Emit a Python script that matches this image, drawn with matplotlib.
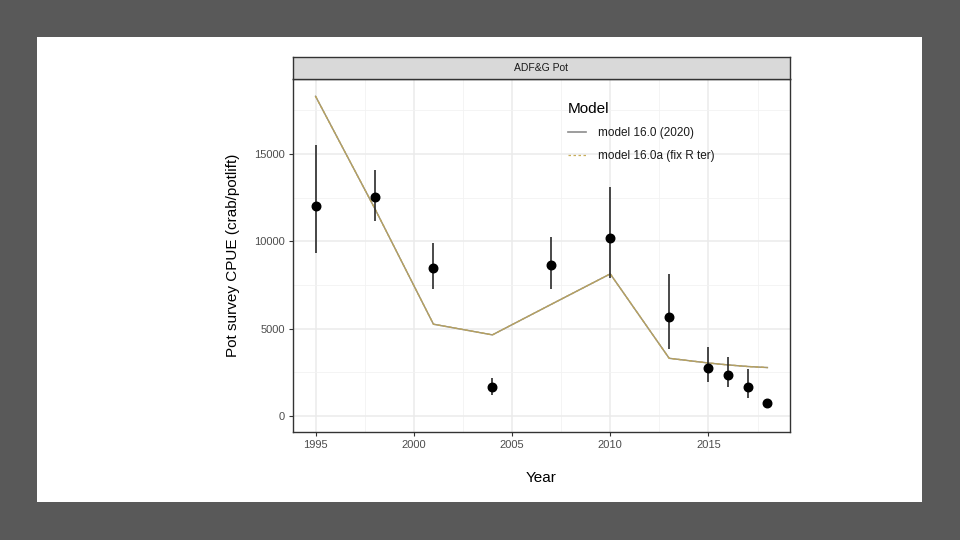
import numpy as np
import matplotlib
matplotlib.use('Agg')
import matplotlib.pyplot as plt
from matplotlib.patches import Rectangle
from matplotlib.lines import Line2D

plt.rcParams['font.family'] = ['Liberation Sans', 'DejaVu Sans']

# survey observations
years = [1995, 1998, 2001, 2004, 2007, 2010, 2013, 2015, 2016, 2017, 2018]
cpue = [12020, 12540, 8490, 1660, 8640, 10170, 5640, 2770, 2350, 1680, 740]
cpue_lo = [9350, 11130, 7270, 1200, 7270, 7900, 3850, 1970, 1680, 1030, 600]
cpue_hi = [15520, 14070, 9890, 2180, 10250, 13130, 8150, 3970, 3400, 2710, 880]

# model fits
fit_160 = [18290, 11900, 5250, 4640, 6390, 8130, 3300, 3030, 2920, 2830, 2770]
fit_160a = [18290, 11900, 5250, 4640, 6390, 8130, 3300, 3030, 2920, 2830, 2770]

model_names = ['model 16.0 (2020)', 'model 16.0a (fix R ter)']
panel_title = 'ADF&G Pot'

fig = plt.figure(figsize=(9.6, 5.4), dpi=100)
fig.patch.set_facecolor('#595959')
fig.patches.append(Rectangle((37/960, 38/540), 885/960, 465/540, transform=fig.transFigure,
                             facecolor='white', edgecolor='none', zorder=-10))

ax = fig.add_axes([293/960, 1-432/540, 497/960, 353/540])
ax.set_facecolor('white')

ax.set_xlim(1993.85, 2019.15)
ax.set_ylim(-918, 19282)
ax.set_xticks([1995, 2000, 2005, 2010, 2015])
ax.set_xticks([1997.5, 2002.5, 2007.5, 2012.5, 2017.5], minor=True)
ax.set_yticks([0, 5000, 10000, 15000])
ax.set_yticks([2500, 7500, 12500, 17500], minor=True)
ax.grid(which='major', color='#EBEBEB', lw=1.1, zorder=0)
ax.grid(which='minor', color='#F2F2F2', lw=0.6, zorder=0)
ax.set_axisbelow(True)

ax.tick_params(which='major', direction='out', length=3, width=0.8, color='#333333',
               labelsize=8, labelcolor='#4D4D4D', pad=3)
ax.tick_params(which='minor', length=0)
for s in ax.spines.values():
    s.set_color('#333333')
    s.set_linewidth(1.0)

ax.plot(years, fit_160, color='#8C8C8C', lw=1.0, zorder=2)
ax.plot(years, fit_160a, color='#C8AE5A', lw=1.0, ls=(0, (2, 2)), zorder=3)
ax.plot(years, fit_160a, color='#B5A060', lw=0.9, alpha=0.7, zorder=3)

for yr, lo, hi in zip(years, cpue_lo, cpue_hi):
    ax.vlines(yr, lo, hi, color='#2a2a2a', lw=1.2, zorder=4)
ax.scatter(years, cpue, s=38, color='black', zorder=5)

ax.set_xlabel('Year', fontsize=11, labelpad=15)
ax.set_ylabel('Pot survey CPUE (crab/potlift)', fontsize=11, labelpad=10)

# facet strip
strip = fig.add_axes([293/960, 1-79/540, 497/960, 22/540])
strip.set_facecolor('#D9D9D9')
strip.set_xticks([])
strip.set_yticks([])
for s in strip.spines.values():
    s.set_color('#333333')
    s.set_linewidth(1.0)
strip.text(0.5, 0.5, panel_title, ha='center', va='center', fontsize=7.5,
           color='#1A1A1A', transform=strip.transAxes)

# legend
handles = [Line2D([], [], color='#8C8C8C', lw=1.2),
           Line2D([], [], color='#C8AE5A', lw=0.9, ls=(0, (2, 2)))]
leg = ax.legend(handles, model_names, title='Model', loc='upper left',
                bbox_to_anchor=(0.531, 0.965), frameon=False, fontsize=8.5,
                title_fontsize=11, handlelength=1.6, labelspacing=0.95,
                handletextpad=1.0)
leg._legend_box.align = 'left'
leg._legend_box.sep = 8
for t in leg.get_texts():
    t.set_color('#1A1A1A')

fig.savefig('out.png', dpi=100, facecolor=fig.get_facecolor())
